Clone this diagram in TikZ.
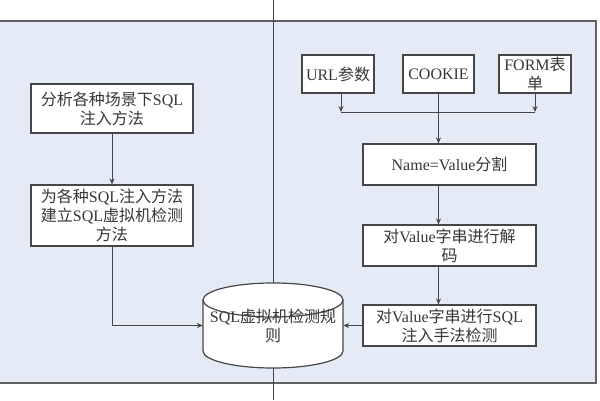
\documentclass[tikz,border=0pt]{standalone}
\usepackage{fontspec}
\setmainfont{Liberation Serif}
\newfontfamily\cjkfont{Noto Sans CJK SC}
\newcommand{\zh}[1]{{\cjkfont #1}}
\usetikzlibrary{arrows.meta}
\definecolor{panelbg}{RGB}{229,235,246}
\definecolor{ink}{RGB}{70,70,70}
\definecolor{txt}{RGB}{55,55,55}
\tikzset{
  box/.style={draw=ink, line width=1.2pt, fill=white, rectangle, inner sep=0pt,
    align=center, text=txt, font=\fontsize{16}{19}\selectfont},
  conn/.style={draw=ink, line width=0.9pt},
  arr/.style={conn, -{Stealth[length=6pt,width=5pt]}},
}
\begin{document}
\begin{tikzpicture}[x=1pt,y=1pt]
\useasboundingbox (0,0) rectangle (600,400);
% panel and divider
\path[fill=panelbg, draw=ink!85, line width=1.1pt] (-3,17) rectangle (596,379);
\draw[conn, line width=1pt] (273,0) -- (273,400);
% left column
\node[box, minimum width=162pt, minimum height=49pt] (a) at (112,291.5)
  {\zh{分析各种场景下}SQL\\\zh{注入方法}};
\node[box, minimum width=162pt, minimum height=61pt] (b) at (112,184.5)
  {\zh{为各种}SQL\zh{注入方法}\\\zh{建立}SQL\zh{虚拟机检测}\\\zh{方法}};
% cylinder
\fill[white] (203,100) -- (203,49) arc[start angle=180,end angle=360,x radius=70,y radius=17]
  -- (343,100) arc[start angle=0,end angle=180,x radius=70,y radius=17] -- cycle;
\draw[ink, line width=1.2pt] (203,100) -- (203,49) arc[start angle=180,end angle=360,x radius=70,y radius=17]
  -- (343,100);
\draw[ink, line width=1.2pt] (273,100) ellipse[x radius=70,y radius=17];
\node[rectangle, inner sep=0pt, minimum width=140pt, minimum height=41pt, align=center,
  text=txt, font=\fontsize{16}{19}\selectfont] (cyl) at (273,74.5)
  {SQL\zh{虚拟机检测规}\\\zh{则}};
% right column
\node[box, minimum width=72pt, minimum height=38pt] (url) at (338,326) {URL\zh{参数}};
\node[box, minimum width=71pt, minimum height=38pt] (cookie) at (438.5,326) {COOKIE};
\node[box, minimum width=72pt, minimum height=38pt] (form) at (535,326) {FORM\zh{表}\\\zh{单}};
\coordinate (mL) at (341,288);
\coordinate (mR) at (535,288);
\node[box, minimum width=173pt, minimum height=41pt] (nv) at (449.5,235.5) {Name=Value\zh{分割}};
\node[box, minimum width=173pt, minimum height=41pt] (dec) at (449.5,154.5) {\zh{对}Value\zh{字串进行解}\\\zh{码}};
\node[box, minimum width=173pt, minimum height=41pt] (chk) at (449.5,74.5) {\zh{对}Value\zh{字串进行}SQL\\\zh{注入手法检测}};
% connectors
\draw[arr] (a.south) -- (b.north);
\draw[arr] (b.south) |- (cyl.west);
\draw[arr] (url.south -| mL) -- (mL);
\draw[arr] (form.south -| mR) -- (mR);
\draw[conn] (mL) -- (mR);
\draw[arr] (cookie.south) -- (cookie.south |- nv.north);
\draw[arr] (nv.south -| cookie.south) -- (dec.north -| cookie.south);
\draw[arr] (dec.south -| cookie.south) -- (chk.north -| cookie.south);
\draw[arr] (chk.west) -- (cyl.east);
\end{tikzpicture}
\end{document}
